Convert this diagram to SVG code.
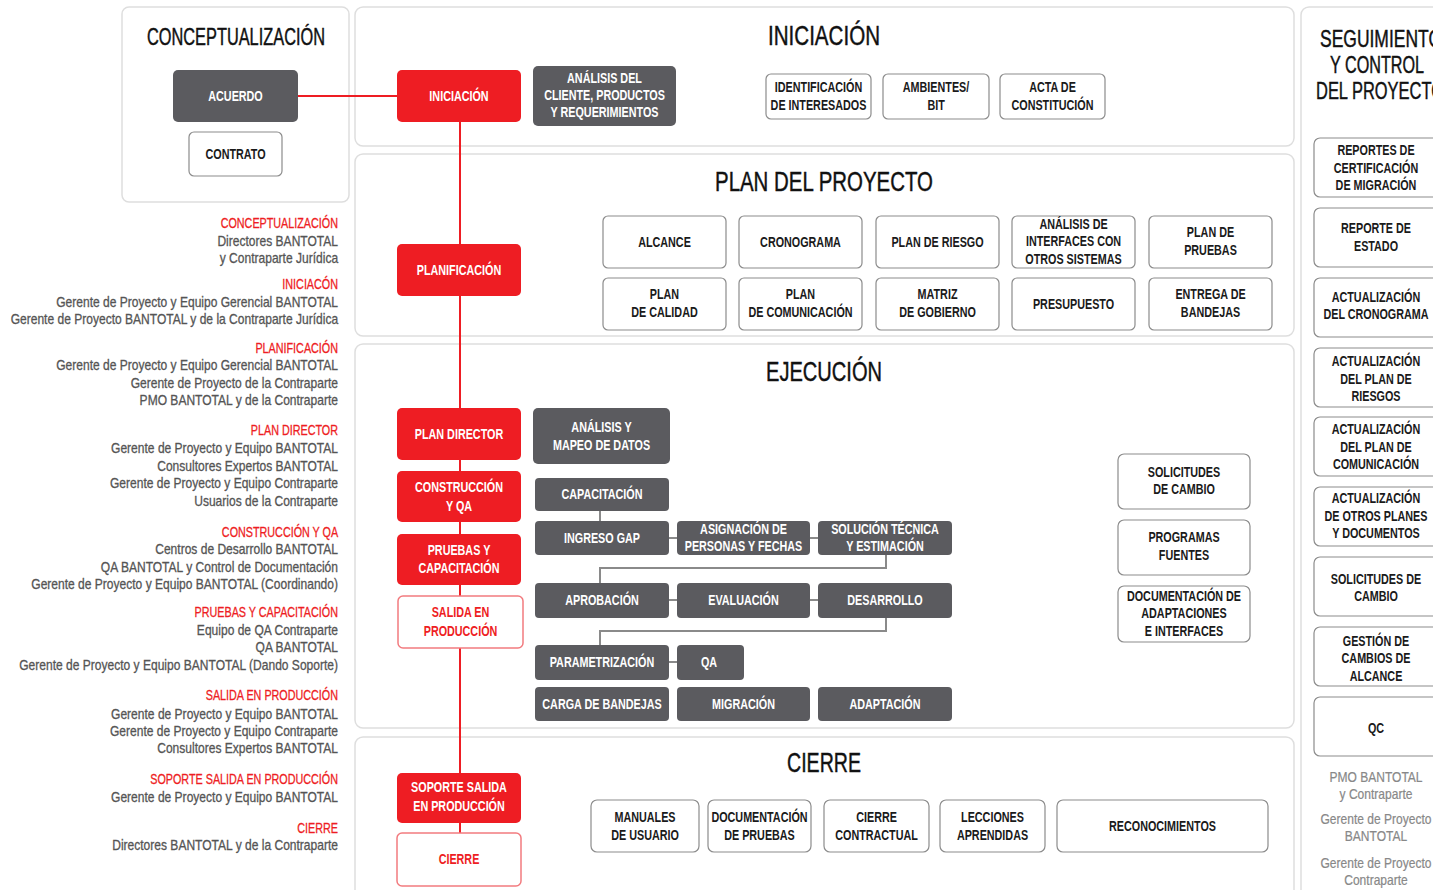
<svg xmlns="http://www.w3.org/2000/svg" width="1433" height="890" viewBox="0 0 1433 890">
<style>
text{font-family:"Liberation Sans",Arial,sans-serif;transform-box:fill-box}
.panel{fill:#fff;stroke:#dedede;stroke-width:1.5}
.title{fill:#111;stroke:#111;stroke-width:0.45;text-anchor:middle}
.lbl{font-size:14px;text-anchor:middle;font-weight:bold;transform-origin:50% 50%;transform:scaleX(0.77)}
.red rect{fill:#ee1d23}
.red text{fill:#fff}
.dark rect{fill:#5b5b5f}
.dark text{fill:#fff}
.box rect{fill:#fff;stroke:#8c8c8c;stroke-width:1.2}
.box text{fill:#1a1a1a}
.out rect{fill:#fff;stroke:#f27b7f;stroke-width:1.5}
.out text{fill:#ee1d23}
.who text{font-size:14px;text-anchor:end;fill:#555;stroke:#555;stroke-width:0.3;transform-origin:100% 50%;transform:scaleX(0.86)}
.who text.h{fill:#ee1d23;stroke:#ee1d23;transform:scaleX(0.77)}
.foot{font-size:14px;text-anchor:middle;fill:#888;stroke:#888;stroke-width:0.2;transform-origin:50% 50%;transform:scaleX(0.86)}
.flow{stroke:#ee1d23;stroke-width:2;fill:none}
.link{stroke:#8a8a8a;stroke-width:2;fill:none}
</style>

<!-- section panels -->
<g id="panels">
  <rect class="panel" x="122" y="7" width="227" height="195" rx="7"/>
  <rect class="panel" x="355" y="7" width="939" height="139" rx="8"/>
  <rect class="panel" x="355" y="154" width="939" height="182" rx="8"/>
  <rect class="panel" x="355" y="344" width="939" height="384" rx="8"/>
  <rect class="panel" x="355" y="737" width="939" height="170" rx="8"/>
  <rect class="panel" x="1301" y="7" width="150" height="900" rx="8"/>
</g>

<!-- section titles -->
<g id="titles">
  <text class="title" x="236" y="45" font-size="24" textLength="178" lengthAdjust="spacingAndGlyphs">CONCEPTUALIZACIÓN</text>
  <text class="title" x="824" y="45" font-size="28" textLength="112" lengthAdjust="spacingAndGlyphs">INICIACIÓN</text>
  <text class="title" x="824" y="191" font-size="28" textLength="218" lengthAdjust="spacingAndGlyphs">PLAN DEL PROYECTO</text>
  <text class="title" x="824" y="381" font-size="28" textLength="116" lengthAdjust="spacingAndGlyphs">EJECUCIÓN</text>
  <text class="title" x="824" y="772" font-size="28" textLength="74" lengthAdjust="spacingAndGlyphs">CIERRE</text>
  <text class="title" x="1381" y="47" font-size="24" textLength="122" lengthAdjust="spacingAndGlyphs">SEGUIMIENTO</text>
  <text class="title" x="1377" y="73" font-size="24" textLength="94" lengthAdjust="spacingAndGlyphs">Y CONTROL</text>
  <text class="title" x="1380" y="99" font-size="24" textLength="128" lengthAdjust="spacingAndGlyphs">DEL PROYECTO</text>
</g>

<!-- connectors -->
<g id="connectors">
  <path class="flow" d="M298 96H397M460 122V833"/>
  <path class="link" d="M600 511V521M669 538H677M810 538H818M886 555V568H600V583M669 600H677M810 600H818M886 618V631H600V645M669 662H677"/>
</g>

<!-- conceptualización -->
<g id="acuerdo" class="dark"><rect x="173" y="70" width="125" height="52" rx="5"/><text class="lbl" x="235.5" y="101">ACUERDO</text></g>
<g id="contrato" class="box"><rect x="189" y="132" width="93" height="44" rx="5"/><text class="lbl" x="235.5" y="159">CONTRATO</text></g>

<!-- iniciación -->
<g id="iniciacion" class="red"><rect x="397" y="70" width="124" height="52" rx="5"/><text class="lbl" x="459" y="101">INICIACIÓN</text></g>
<g id="analisis-cliente" class="dark"><rect x="533" y="66" width="143" height="60" rx="5"/><text class="lbl" x="604.5" y="83">ANÁLISIS DEL<tspan x="604.5" y="100">CLIENTE, PRODUCTOS</tspan><tspan x="604.5" y="117">Y REQUERIMIENTOS</tspan></text></g>
<g id="interesados" class="box"><rect x="766" y="74" width="105" height="45" rx="5"/><text class="lbl" x="818.5" y="92">IDENTIFICACIÓN<tspan x="818.5" y="110">DE INTERESADOS</tspan></text></g>
<g id="ambientes" class="box"><rect x="883" y="74" width="106" height="45" rx="5"/><text class="lbl" x="936" y="92">AMBIENTES/<tspan x="936" y="110">BIT</tspan></text></g>
<g id="acta" class="box"><rect x="1000" y="74" width="105" height="45" rx="5"/><text class="lbl" x="1052.5" y="92">ACTA DE<tspan x="1052.5" y="110">CONSTITUCIÓN</tspan></text></g>

<!-- plan del proyecto -->
<g id="planificacion" class="red"><rect x="397" y="244" width="124" height="52" rx="5"/><text class="lbl" x="459" y="275">PLANIFICACIÓN</text></g>
<g id="alcance" class="box"><rect x="603" y="216" width="123" height="52" rx="5"/><text class="lbl" x="664.5" y="247">ALCANCE</text></g>
<g id="cronograma" class="box"><rect x="739" y="216" width="123" height="52" rx="5"/><text class="lbl" x="800.5" y="247">CRONOGRAMA</text></g>
<g id="plan-riesgo" class="box"><rect x="876" y="216" width="123" height="52" rx="5"/><text class="lbl" x="937.5" y="247">PLAN DE RIESGO</text></g>
<g id="interfaces" class="box"><rect x="1012" y="216" width="123" height="52" rx="5"/><text class="lbl" x="1073.5" y="229">ANÁLISIS DE<tspan x="1073.5" y="246">INTERFACES CON</tspan><tspan x="1073.5" y="264">OTROS SISTEMAS</tspan></text></g>
<g id="plan-pruebas" class="box"><rect x="1149" y="216" width="123" height="52" rx="5"/><text class="lbl" x="1210.5" y="237">PLAN DE<tspan x="1210.5" y="255">PRUEBAS</tspan></text></g>
<g id="plan-calidad" class="box"><rect x="603" y="278" width="123" height="52" rx="5"/><text class="lbl" x="664.5" y="299">PLAN<tspan x="664.5" y="317">DE CALIDAD</tspan></text></g>
<g id="plan-comunicacion" class="box"><rect x="739" y="278" width="123" height="52" rx="5"/><text class="lbl" x="800.5" y="299">PLAN<tspan x="800.5" y="317">DE COMUNICACIÓN</tspan></text></g>
<g id="matriz" class="box"><rect x="876" y="278" width="123" height="52" rx="5"/><text class="lbl" x="937.5" y="299">MATRIZ<tspan x="937.5" y="317">DE GOBIERNO</tspan></text></g>
<g id="presupuesto" class="box"><rect x="1012" y="278" width="123" height="52" rx="5"/><text class="lbl" x="1073.5" y="309">PRESUPUESTO</text></g>
<g id="entrega" class="box"><rect x="1149" y="278" width="123" height="52" rx="5"/><text class="lbl" x="1210.5" y="299">ENTREGA DE<tspan x="1210.5" y="317">BANDEJAS</tspan></text></g>

<!-- ejecución -->
<g id="plan-director" class="red"><rect x="397" y="408" width="124" height="52" rx="5"/><text class="lbl" x="459" y="439">PLAN DIRECTOR</text></g>
<g id="construccion" class="red"><rect x="397" y="471" width="124" height="51" rx="5"/><text class="lbl" x="459" y="492">CONSTRUCCIÓN<tspan x="459" y="511">Y QA</tspan></text></g>
<g id="pruebas" class="red"><rect x="397" y="534" width="124" height="51" rx="5"/><text class="lbl" x="459" y="555">PRUEBAS Y<tspan x="459" y="573">CAPACITACIÓN</tspan></text></g>
<g id="salida" class="out"><rect x="398" y="596" width="125" height="52" rx="5"/><text class="lbl" x="460.5" y="617">SALIDA EN<tspan x="460.5" y="636">PRODUCCIÓN</tspan></text></g>
<g id="mapeo" class="dark"><rect x="533" y="408" width="137" height="56" rx="5"/><text class="lbl" x="601.5" y="432">ANÁLISIS Y<tspan x="601.5" y="450">MAPEO DE DATOS</tspan></text></g>
<g id="capacitacion" class="dark"><rect x="535" y="478" width="134" height="33" rx="4"/><text class="lbl" x="602" y="499">CAPACITACIÓN</text></g>
<g id="ingreso-gap" class="dark"><rect x="535" y="521" width="134" height="34" rx="4"/><text class="lbl" x="602" y="543">INGRESO GAP</text></g>
<g id="asignacion" class="dark"><rect x="677" y="521" width="133" height="34" rx="4"/><text class="lbl" x="743.5" y="534">ASIGNACIÓN DE<tspan x="743.5" y="551">PERSONAS Y FECHAS</tspan></text></g>
<g id="solucion" class="dark"><rect x="818" y="521" width="134" height="34" rx="4"/><text class="lbl" x="885" y="534">SOLUCIÓN TÉCNICA<tspan x="885" y="551">Y ESTIMACIÓN</tspan></text></g>
<g id="aprobacion" class="dark"><rect x="535" y="583" width="134" height="35" rx="4"/><text class="lbl" x="602" y="605">APROBACIÓN</text></g>
<g id="evaluacion" class="dark"><rect x="677" y="583" width="133" height="35" rx="4"/><text class="lbl" x="743.5" y="605">EVALUACIÓN</text></g>
<g id="desarrollo" class="dark"><rect x="818" y="583" width="134" height="35" rx="4"/><text class="lbl" x="885" y="605">DESARROLLO</text></g>
<g id="parametrizacion" class="dark"><rect x="535" y="645" width="134" height="35" rx="4"/><text class="lbl" x="602" y="667">PARAMETRIZACIÓN</text></g>
<g id="qa" class="dark"><rect x="677" y="645" width="67" height="35" rx="4"/><text class="lbl" x="709" y="667">QA</text></g>
<g id="carga" class="dark"><rect x="535" y="687" width="134" height="34" rx="4"/><text class="lbl" x="602" y="709">CARGA DE BANDEJAS</text></g>
<g id="migracion" class="dark"><rect x="677" y="687" width="133" height="34" rx="4"/><text class="lbl" x="743.5" y="709">MIGRACIÓN</text></g>
<g id="adaptacion" class="dark"><rect x="818" y="687" width="134" height="34" rx="4"/><text class="lbl" x="885" y="709">ADAPTACIÓN</text></g>
<g id="solicitudes-ej" class="box"><rect x="1118" y="454" width="132" height="55" rx="6"/><text class="lbl" x="1184" y="477">SOLICITUDES<tspan x="1184" y="494">DE CAMBIO</tspan></text></g>
<g id="fuentes" class="box"><rect x="1118" y="520" width="132" height="55" rx="6"/><text class="lbl" x="1184" y="542">PROGRAMAS<tspan x="1184" y="560">FUENTES</tspan></text></g>
<g id="doc-adaptaciones" class="box"><rect x="1118" y="586" width="132" height="56" rx="6"/><text class="lbl" x="1184" y="601">DOCUMENTACIÓN DE<tspan x="1184" y="618">ADAPTACIONES</tspan><tspan x="1184" y="636">E INTERFACES</tspan></text></g>

<!-- cierre -->
<g id="soporte" class="red"><rect x="397" y="773" width="124" height="50" rx="5"/><text class="lbl" x="459" y="792">SOPORTE SALIDA<tspan x="459" y="811">EN PRODUCCIÓN</tspan></text></g>
<g id="cierre" class="out"><rect x="397" y="833" width="124" height="53" rx="5"/><text class="lbl" x="459" y="864">CIERRE</text></g>
<g id="manuales" class="box"><rect x="591" y="800" width="108" height="52" rx="6"/><text class="lbl" x="645" y="822">MANUALES<tspan x="645" y="840">DE USUARIO</tspan></text></g>
<g id="doc-pruebas" class="box"><rect x="708" y="800" width="103" height="52" rx="6"/><text class="lbl" x="759.5" y="822">DOCUMENTACIÓN<tspan x="759.5" y="840">DE PRUEBAS</tspan></text></g>
<g id="cierre-contractual" class="box"><rect x="824" y="800" width="105" height="52" rx="6"/><text class="lbl" x="876.5" y="822">CIERRE<tspan x="876.5" y="840">CONTRACTUAL</tspan></text></g>
<g id="lecciones" class="box"><rect x="940" y="800" width="105" height="52" rx="6"/><text class="lbl" x="992.5" y="822">LECCIONES<tspan x="992.5" y="840">APRENDIDAS</tspan></text></g>
<g id="reconocimientos" class="box"><rect x="1057" y="800" width="211" height="52" rx="6"/><text class="lbl" x="1162.5" y="831">RECONOCIMIENTOS</text></g>

<!-- seguimiento y control -->
<g id="certificacion" class="box"><rect x="1314" y="138" width="130" height="59" rx="6"/><text class="lbl" x="1376" y="155">REPORTES DE<tspan x="1376" y="173">CERTIFICACIÓN</tspan><tspan x="1376" y="190">DE MIGRACIÓN</tspan></text></g>
<g id="estado" class="box"><rect x="1314" y="208" width="130" height="59" rx="6"/><text class="lbl" x="1376" y="233">REPORTE DE<tspan x="1376" y="251">ESTADO</tspan></text></g>
<g id="act-cronograma" class="box"><rect x="1314" y="278" width="130" height="59" rx="6"/><text class="lbl" x="1376" y="302">ACTUALIZACIÓN<tspan x="1376" y="319">DEL CRONOGRAMA</tspan></text></g>
<g id="act-riesgos" class="box"><rect x="1314" y="348" width="130" height="59" rx="6"/><text class="lbl" x="1376" y="366">ACTUALIZACIÓN<tspan x="1376" y="384">DEL PLAN DE</tspan><tspan x="1376" y="401">RIESGOS</tspan></text></g>
<g id="act-comunicacion" class="box"><rect x="1314" y="417" width="130" height="59" rx="6"/><text class="lbl" x="1376" y="434">ACTUALIZACIÓN<tspan x="1376" y="452">DEL PLAN DE</tspan><tspan x="1376" y="469">COMUNICACIÓN</tspan></text></g>
<g id="act-otros" class="box"><rect x="1314" y="487" width="130" height="59" rx="6"/><text class="lbl" x="1376" y="503">ACTUALIZACIÓN<tspan x="1376" y="521">DE OTROS PLANES</tspan><tspan x="1376" y="538">Y DOCUMENTOS</tspan></text></g>
<g id="solicitudes-sc" class="box"><rect x="1314" y="557" width="130" height="59" rx="6"/><text class="lbl" x="1376" y="584">SOLICITUDES DE<tspan x="1376" y="601">CAMBIO</tspan></text></g>
<g id="gestion-alcance" class="box"><rect x="1314" y="627" width="130" height="59" rx="6"/><text class="lbl" x="1376" y="646">GESTIÓN DE<tspan x="1376" y="663">CAMBIOS DE</tspan><tspan x="1376" y="681">ALCANCE</tspan></text></g>
<g id="qc" class="box"><rect x="1314" y="697" width="130" height="59" rx="6"/><text class="lbl" x="1376" y="733">QC</text></g>
<g id="responsables-sc">
  <text class="foot" x="1376" y="782">PMO BANTOTAL<tspan x="1376" y="799">y Contraparte</tspan></text>
  <text class="foot" x="1376" y="824">Gerente de Proyecto<tspan x="1376" y="841">BANTOTAL</tspan></text>
  <text class="foot" x="1376" y="868">Gerente de Proyecto<tspan x="1376" y="885">Contraparte</tspan></text>
</g>

<!-- responsables por etapa -->
<g id="responsables" class="who">
  <text x="338" y="228" class="h">CONCEPTUALIZACIÓN</text>
  <text x="338" y="246">Directores BANTOTAL</text>
  <text x="338" y="263">y Contraparte Jurídica</text>
  <text x="338" y="289" class="h">INICIACÓN</text>
  <text x="338" y="307">Gerente de Proyecto y Equipo Gerencial BANTOTAL</text>
  <text x="338" y="324">Gerente de Proyecto BANTOTAL y de la Contraparte Jurídica</text>
  <text x="338" y="353" class="h">PLANIFICACIÓN</text>
  <text x="338" y="370">Gerente de Proyecto y Equipo Gerencial BANTOTAL</text>
  <text x="338" y="388">Gerente de Proyecto de la Contraparte</text>
  <text x="338" y="405">PMO BANTOTAL y de la Contraparte</text>
  <text x="338" y="435" class="h">PLAN DIRECTOR</text>
  <text x="338" y="453">Gerente de Proyecto y Equipo BANTOTAL</text>
  <text x="338" y="471">Consultores Expertos BANTOTAL</text>
  <text x="338" y="488">Gerente de Proyecto y Equipo Contraparte</text>
  <text x="338" y="506">Usuarios de la Contraparte</text>
  <text x="338" y="537" class="h">CONSTRUCCIÓN Y QA</text>
  <text x="338" y="554">Centros de Desarrollo BANTOTAL</text>
  <text x="338" y="572">QA BANTOTAL y Control de Documentación</text>
  <text x="338" y="589">Gerente de Proyecto y Equipo BANTOTAL (Coordinando)</text>
  <text x="338" y="617" class="h">PRUEBAS Y CAPACITACIÓN</text>
  <text x="338" y="635">Equipo de QA Contraparte</text>
  <text x="338" y="652">QA BANTOTAL</text>
  <text x="338" y="670">Gerente de Proyecto y Equipo BANTOTAL (Dando Soporte)</text>
  <text x="338" y="700" class="h">SALIDA EN PRODUCCIÓN</text>
  <text x="338" y="719">Gerente de Proyecto y Equipo BANTOTAL</text>
  <text x="338" y="736">Gerente de Proyecto y Equipo Contraparte</text>
  <text x="338" y="753">Consultores Expertos BANTOTAL</text>
  <text x="338" y="784" class="h">SOPORTE SALIDA EN PRODUCCIÓN</text>
  <text x="338" y="802">Gerente de Proyecto y Equipo BANTOTAL</text>
  <text x="338" y="833" class="h">CIERRE</text>
  <text x="338" y="850">Directores BANTOTAL y de la Contraparte</text>
</g>
</svg>
